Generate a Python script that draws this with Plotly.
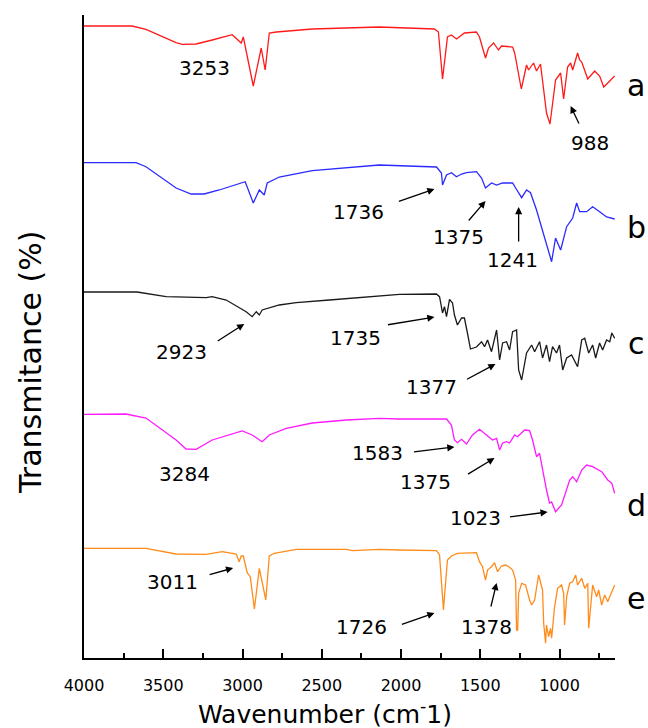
import plotly.graph_objects as go

# ---------------- data ----------------
# wavenumbers (cm-1) and transmittance (a.u., curves stacked with offsets)
a_wn = [4000, 3697, 3609, 3507, 3419, 3381, 3293, 3191, 3065, 3008, 2995, 2932, 2882, 2857, 2831, 2787,
        2560, 2137, 1789, 1764, 1738, 1707, 1682, 1650, 1600, 1524, 1505, 1467, 1448, 1416, 1385, 1366,
        1296, 1283, 1241, 1208, 1195, 1164, 1145, 1120, 1082, 1060, 1025, 993, 974, 949, 930, 917,
        886, 873, 860, 822, 778, 747, 721, 683, 652]
a_T = [632, 632, 628.7, 621.3, 615.3, 613.7, 614, 618, 623.3, 615, 621, 572, 610, 588, 625, 626,
       629, 631, 629, 626, 579, 621, 623, 619, 625, 626, 621, 600, 610, 615, 608, 612,
       611, 605, 569, 593, 588, 595, 587, 594, 545, 534, 578, 585, 559, 591, 595, 588,
       605, 598, 596, 579, 587, 582, 571, 577, 582]

b_wn = [4000, 3672, 3609, 3507, 3419, 3324, 3242, 3147, 3002, 2983, 2932, 2894, 2863, 2844, 2768, 2560,
        2137, 1776, 1745, 1738, 1713, 1682, 1650, 1618, 1587, 1524, 1492, 1467, 1429, 1397, 1359, 1296,
        1277, 1239, 1208, 1183, 1145, 1113, 1050, 1025, 993, 955, 917, 892, 873, 829, 791, 747, 703, 652]
b_T = [495.3, 495.3, 491.3, 480, 470, 464, 464, 468, 476, 476.3, 455, 468, 463, 475, 481, 487.3,
       493, 491, 485, 473, 483, 485.3, 481.3, 484, 485.3, 486.3, 480, 470, 475, 473, 475, 475,
       470, 460.3, 468, 465.3, 448, 431.3, 396.3, 420, 408, 431.3, 440, 455, 446.3, 446.3, 451.3, 446.3, 441, 439]

c_wn = [4000, 3665, 3482, 3229, 3192, 3103, 2977, 2939, 2913, 2894, 2876, 2768, 2661, 2560, 2452, 2010,
        1777, 1757, 1738, 1726, 1713, 1694, 1675, 1663, 1644, 1618, 1600, 1581, 1562, 1524, 1492, 1473,
        1454, 1429, 1397, 1378, 1359, 1334, 1315, 1296, 1271, 1258, 1239, 1208, 1176, 1157, 1126, 1107,
        1082, 1063, 1044, 1019, 1000, 980, 955, 924, 905, 886, 860, 841, 816, 791, 772, 747, 728, 703,
        683, 670, 652]
c_T = [366, 366, 361.3, 360.3, 361.3, 358, 346.3, 341.3, 346.3, 343, 348, 353, 355.3, 356.3, 358, 363.7,
       364, 361.3, 345, 351.3, 341.3, 358.7, 355, 343, 333, 340, 340, 325, 309, 311, 316.3, 311.3,
       318, 306.3, 328, 298, 315, 316.3, 308, 326.3, 328, 288, 278, 305, 313, 306.3, 316.3, 300,
       313, 296.3, 311.3, 305, 313, 288, 300, 303, 296.3, 291.3, 318, 319.7, 305, 313, 300, 315, 308, 318,
       316.3, 325, 319.7]

d_wn = [4000, 3735, 3609, 3507, 3419, 3356, 3293, 3191, 3084, 3002, 2939, 2876, 2831, 2724, 2560, 2345,
        2137, 2010, 1713, 1682, 1663, 1644, 1618, 1587, 1549, 1505, 1461, 1423, 1397, 1378, 1359, 1334,
        1315, 1283, 1265, 1220, 1189, 1170, 1145, 1126, 1082, 1063, 1050, 1025, 987, 955, 936, 917,
        892, 860, 829, 791, 734, 696, 670, 652]
d_T = [243.7, 244, 240, 228, 218, 209, 208.7, 218, 223, 227, 223, 216.3, 223, 229.7, 235, 238,
       239.7, 239, 239, 233, 218, 215.3, 218.7, 214, 223, 228.7, 223, 218, 219.7, 208, 215, 216.3,
       215, 223, 221.3, 228, 227.3, 218, 201.3, 204.7, 168, 155, 156, 146.3, 153, 169.7, 178, 181.3,
       176.3, 188, 193, 191.3, 186.3, 178, 174.7, 164.7]

e_wn = [4000, 3609, 3419, 3230, 3128, 3040, 3021, 3008, 2995, 2970, 2951, 2925, 2894, 2853, 2831, 2800,
        2661, 2345, 2307, 2137, 2010, 1776, 1757, 1738, 1732, 1726, 1707, 1682, 1644, 1524, 1505, 1486,
        1467, 1454, 1429, 1410, 1391, 1366, 1340, 1315, 1296, 1277, 1271, 1264, 1258, 1239, 1214, 1189,
        1176, 1157, 1132, 1107, 1100, 1088, 1082, 1069, 1057, 1050, 1031, 1012, 987, 974, 968, 955,
        936, 917, 898, 886, 860, 841, 822, 816, 803, 791, 766, 753, 734, 715, 696, 652]
e_T = [109.7, 109.7, 104, 103.7, 106.3, 104, 96.3, 102, 102, 85, 81.3, 49, 89.7, 58, 102, 104.7,
       108.7, 108.7, 107.3, 108.7, 108, 107.3, 103, 61.3, 48, 61.3, 98, 102, 104.7, 105.3, 96.3, 91.3,
       78, 88, 91.3, 95.3, 86.3, 92, 93, 90.7, 88, 78, 28, 28, 64.7, 74.7, 73, 58,
       53, 58, 83, 68, 34.7, 14.7, 33, 21.3, 29.7, 19.7, 51.3, 69.7, 73, 64.7, 33, 61.3,
       74.7, 76.3, 83, 73, 79.7, 69.7, 74.7, 29.7, 51.3, 73, 61.3, 68, 53, 63, 56.3, 73]

series_names = ["a", "b", "c", "d", "e"]
series_wn = [a_wn, b_wn, c_wn, d_wn, e_wn]
series_T = [a_T, b_T, c_T, d_T, e_T]
series_colors = ["#FF1A1A", "#2B2BFF", "#1A1A1A", "#FF1AFF", "#FF8C1A"]
label_T = [573, 431, 315, 153, 60]

x_ticks = [4000, 3500, 3000, 2500, 2000, 1500, 1000]

# peak annotations: text, text position (wn, T), arrow head (wn, T), arrow tail (wn, T)
peak_labels = [
    ("3253", 3242, 590, None, None, None, None),
    ("988", 810, 515, 930, 552, 873, 533),
    ("1736", 2269, 446, 1789, 469, 2023, 456),
    ("1375", 1637, 421, 1467, 457, 1581, 436),
    ("1241", 1296, 398, 1258, 451, 1258, 415),
    ("2923", 3387, 306, 2989, 334, 3166, 316),
    ("1735", 2288, 320, 1789, 341, 2092, 333),
    ("1377", 1808, 271, 1404, 294, 1593, 278),
    ("3284", 3368, 184, None, None, None, None),
    ("1583", 2149, 205, 1663, 211, 1928, 206),
    ("1375", 1846, 176, 1410, 200, 1587, 183),
    ("1023", 1530, 140, 1075, 146, 1322, 141),
    ("3011", 3444, 76, 3059, 90, 3217, 83),
    ("1726", 2250, 31, 1789, 45, 2004, 33),
    ("1378", 1461, 31, 1397, 75, 1435, 50),
]

FONT = "DejaVu Sans"

fig = go.Figure()
for name, wn, T, col in zip(series_names, series_wn, series_T, series_colors):
    fig.add_trace(go.Scatter(x=wn, y=T, mode="lines", name=name,
                             line=dict(color=col, width=1.3), showlegend=False))

ann = []
for txt, tx, ty, hx, hy, sx, sy in peak_labels:
    ann.append(dict(x=tx, y=ty, xref="x", yref="y", text=txt, showarrow=False,
                    xanchor="center", yanchor="middle",
                    font=dict(family=FONT, size=20, color="black")))
    if hx is not None:
        ann.append(dict(x=hx, y=hy, ax=sx, ay=sy, xref="x", yref="y", axref="x", ayref="y",
                        text="", showarrow=True, arrowhead=2, arrowsize=1.1, arrowwidth=1.3,
                        arrowcolor="black"))
for name, ly in zip(series_names, label_T):
    ann.append(dict(x=1.04, y=ly, xref="paper", yref="y", text=name, showarrow=False,
                    xanchor="center", yanchor="middle",
                    font=dict(family=FONT, size=30, color="black")))
ann.append(dict(x=-0.102, y=0.46, xref="paper", yref="paper", text="Transmitance (%)",
                xanchor="center", yanchor="middle",
                textangle=-90, showarrow=False, font=dict(family=FONT, size=30, color="black")))
ann.append(dict(x=0.454, y=-0.084, xref="paper", yref="paper", text="Wavenumber (cm<sup>-</sup>1)",
                xanchor="center", yanchor="middle", borderpad=0,
                showarrow=False, font=dict(family=FONT, size=25, color="black")))

fig.update_layout(
    width=648, height=728,
    margin=dict(l=84, r=33, t=15, b=70),
    paper_bgcolor="white", plot_bgcolor="white",
    annotations=ann,
    xaxis=dict(range=[4000, 650], tickvals=x_ticks, ticks="inside", ticklen=9, tickwidth=1.5,
               tickcolor="black", showline=True, linewidth=2, linecolor="black",
               showgrid=False, zeroline=False, ticklabelstandoff=12,
               tickfont=dict(family=FONT, size=16, color="black"),
               minor=dict(dtick=250, tick0=750, ticks="inside", ticklen=5, tickwidth=1.5,
                          tickcolor="black", showgrid=False)),
    yaxis=dict(range=[0, 643], showline=True, linewidth=2, linecolor="black", ticks="",
               showticklabels=False, showgrid=False, zeroline=False),
)

fig.write_html("out.html")
